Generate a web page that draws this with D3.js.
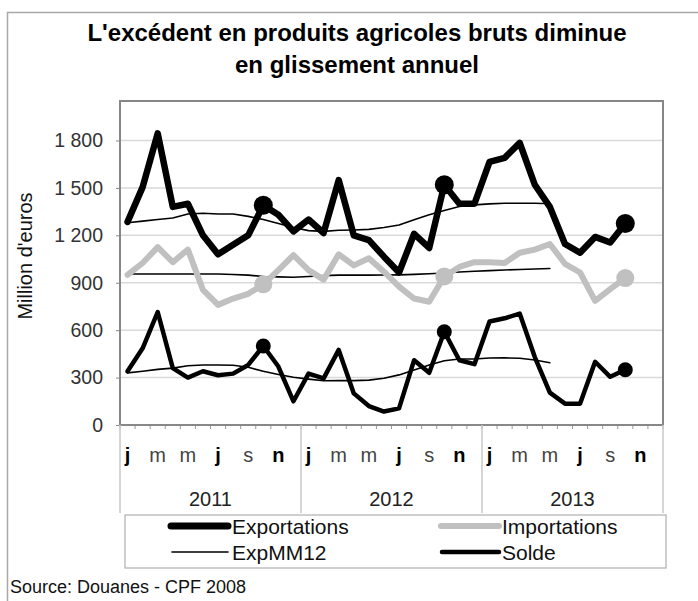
<!doctype html>
<html>
<head>
<meta charset="utf-8">
<script src="https://d3js.org/d3.v7.min.js"></script>
<style>
  body { margin: 0; background: #fff; }
  text { font-family: "Liberation Sans", Arial, sans-serif; }
</style>
</head>
<body>
<script>
  // valeurs mensuelles, janvier 2011 -> octobre 2013 (millions d'euros)
  var annees = ["2011", "2012", "2013"];
  var lettresMois = ["j", "f", "m", "a", "m", "j", "j", "a", "s", "o", "n", "d"];
  var yTicks = [0, 300, 600, 900, 1200, 1500, 1800];

  var exportations = [1285, 1505, 1845, 1380, 1400, 1200, 1080, 1140, 1200, 1390, 1330, 1225,
                      1300, 1215, 1550, 1200, 1170, 1065, 965, 1210, 1120, 1520, 1400, 1400,
                      1665, 1690, 1785, 1520, 1380, 1145, 1090, 1190, 1155, 1275];
  var importations = [950, 1025, 1125, 1030, 1110, 855, 760, 800, 830, 890, 980, 1075,
                      980, 920, 1080, 1010, 1055, 970, 875, 800, 780, 940, 1000, 1030,
                      1030, 1025, 1090, 1110, 1145, 1020, 965, 785, 860, 930];
  var solde = [340, 485, 715, 360, 300, 340, 315, 325, 380, 500, 370, 150,
               325, 295, 475, 200, 120, 85, 105, 410, 330, 590, 410, 385,
               655, 675, 705, 430, 205, 135, 135, 400, 305, 350];
  // moyennes mobiles sur 12 mois (s'arretent en mai 2013)
  var expMM12 = [1280, 1290, 1300, 1310, 1335, 1340, 1335, 1335, 1320, 1300, 1275, 1250,
                 1230, 1225, 1232, 1234, 1238, 1250, 1265, 1298, 1330, 1357, 1382, 1393,
                 1399, 1403, 1403, 1403, 1400];
  var impMM12 = [955, 955, 955, 955, 955, 955, 955, 952, 948, 940, 937, 935,
                 940, 945, 948, 948, 948, 949, 950, 953, 957, 962, 968, 973,
                 977, 981, 984, 987, 990];
  var soldeMM12 = [330, 340, 352, 360, 375, 380, 380, 378, 365, 340, 320, 302,
                   290, 280, 282, 281, 284, 296, 317, 348, 380, 407, 418, 418,
                   424, 425, 422, 411, 394];

  var width = 698, height = 601;
  var plot = {left: 120, right: 663, top: 101, bottom: 425};

  var mois = d3.range(36);

  var x = d3.scaleBand()
            .domain(mois)
            .range([plot.left, plot.right]);
  var y = d3.scaleLinear()
            .domain([0, 2050])
            .range([plot.bottom, plot.top]);

  var fr = d3.formatLocale({decimal: ",", thousands: " ", grouping: [3], currency: ["", " €"]});
  var fmt = fr.format(",d");

  var svg = d3.select("body").append("svg")
              .attr("width", width)
              .attr("height", height);

  // cadre exterieur
  svg.append("rect")
     .attr("x", 7.5).attr("y", 12.5)
     .attr("width", 720).attr("height", 620)
     .attr("fill", "none").attr("stroke", "#a8a8a8").attr("stroke-width", 1.5);

  // titre
  var titre = svg.append("text")
     .attr("text-anchor", "middle")
     .attr("font-weight", "bold")
     .attr("font-size", 24)
     .attr("fill", "#000");
  titre.append("tspan").attr("x", 357).attr("y", 41).text("L'excédent en produits agricoles bruts diminue");
  titre.append("tspan").attr("x", 357).attr("y", 73).text("en glissement annuel");

  // grille
  svg.append("g")
     .selectAll("line")
     .data(yTicks.filter(function(d){ return d > 0; }))
     .enter().append("line")
     .attr("x1", plot.left).attr("x2", plot.right)
     .attr("y1", function(d){ return y(d); })
     .attr("y2", function(d){ return y(d); })
     .attr("stroke", "#d9d9d9").attr("stroke-width", 1.5);

  // axe vertical
  var axeY = svg.append("g")
     .attr("transform", "translate(" + plot.left + ",0)")
     .call(d3.axisLeft(y).tickValues(yTicks).tickFormat(fmt).tickSize(4).tickPadding(13));
  axeY.select(".domain").remove();
  axeY.selectAll(".tick line").attr("stroke", "#888");
  axeY.selectAll("text")
      .attr("font-size", 19.5)
      .attr("fill", "#333")
      .style("font-family", "'Liberation Sans', Arial, sans-serif");

  svg.append("text")
     .attr("transform", "translate(32,256) rotate(-90)")
     .attr("text-anchor", "middle")
     .attr("font-size", 20)
     .attr("fill", "#111")
     .text("Million d'euros");

  // cadre de la zone de tracé
  svg.append("path")
     .attr("d", "M" + plot.left + "," + plot.bottom + "V" + plot.top + "H" + plot.right + "V" + plot.bottom)
     .attr("fill", "none").attr("stroke", "#868686").attr("stroke-width", 2);

  // axe horizontal : petites graduations par mois
  svg.append("g")
     .selectAll("line")
     .data(d3.range(37))
     .enter().append("line")
     .attr("x1", function(d){ return plot.left + d * x.step(); })
     .attr("x2", function(d){ return plot.left + d * x.step(); })
     .attr("y1", plot.bottom).attr("y2", plot.bottom + 4)
     .attr("stroke", "#999").attr("stroke-width", 1);

  svg.append("line")
     .attr("x1", plot.left).attr("x2", plot.right)
     .attr("y1", plot.bottom).attr("y2", plot.bottom)
     .attr("stroke", "#888").attr("stroke-width", 2);

  // separateurs d'annees
  svg.append("g")
     .selectAll("line")
     .data(d3.range(4))
     .enter().append("line")
     .attr("x1", function(d){ return plot.left + d * 12 * x.step(); })
     .attr("x2", function(d){ return plot.left + d * 12 * x.step(); })
     .attr("y1", plot.bottom).attr("y2", 513)
     .attr("stroke", "#c8c8c8").attr("stroke-width", 1.5);

  // lettres des mois (un mois sur deux)
  svg.append("g")
     .selectAll("text")
     .data(mois.filter(function(d){ return d % 2 === 0; }))
     .enter().append("text")
     .attr("x", function(d){ return x(d) + x.bandwidth() / 2; })
     .attr("y", 462)
     .attr("text-anchor", "middle")
     .attr("font-size", 20)
     .attr("font-weight", function(d){
        var l = lettresMois[d % 12];
        return (l === "j" || l === "n") ? "bold" : "normal";
     })
     .attr("fill", function(d){
        var l = lettresMois[d % 12];
        return (l === "j" || l === "n") ? "#000" : "#444";
     })
     .text(function(d){ return lettresMois[d % 12]; });

  svg.append("g")
     .selectAll("text")
     .data(annees)
     .enter().append("text")
     .attr("x", function(d, i){ return plot.left + (i * 12 + 6) * x.step(); })
     .attr("y", 506)
     .attr("text-anchor", "middle")
     .attr("font-size", 20)
     .attr("fill", "#222")
     .text(function(d){ return d; });

  // series
  var ligne = d3.line()
                .x(function(d, i){ return x(i) + x.bandwidth() / 2; })
                .y(function(d){ return y(d); });

  var series = [
    {nom: "ImpMM12", data: impMM12, couleur: "#000", epaisseur: 1.6},
    {nom: "SoldeMM12", data: soldeMM12, couleur: "#000", epaisseur: 1.6},
    {nom: "Importations", data: importations, couleur: "#c0c0c0", epaisseur: 6, rayon: 9},
    {nom: "Solde", data: solde, couleur: "#000", epaisseur: 4.5, rayon: 7.5},
    {nom: "ExpMM12", data: expMM12, couleur: "#000", epaisseur: 1.6},
    {nom: "Exportations", data: exportations, couleur: "#000", epaisseur: 6.5, rayon: 9.5}
  ];

  series.forEach(function(s){
    svg.append("path")
       .datum(s.data)
       .attr("d", ligne)
       .attr("fill", "none")
       .attr("stroke", s.couleur)
       .attr("stroke-width", s.epaisseur)
       .attr("stroke-linejoin", "round")
       .attr("stroke-linecap", "round");

    if (s.rayon) {
      // marqueurs sur le mois d'octobre
      svg.append("g")
         .selectAll("circle")
         .data(s.data.map(function(v, i){ return {v: v, i: i}; })
                     .filter(function(d){ return d.i % 12 === 9; }))
         .enter().append("circle")
         .attr("cx", function(d){ return x(d.i) + x.bandwidth() / 2; })
         .attr("cy", function(d){ return y(d.v); })
         .attr("r", s.rayon)
         .attr("fill", s.couleur);
    }
  });

  // legende
  var legende = svg.append("g");
  legende.append("rect")
         .attr("x", 125).attr("y", 515)
         .attr("width", 541).attr("height", 53)
         .attr("fill", "#fff").attr("stroke", "#b0b0b0").attr("stroke-width", 1.2);

  var entrees = [
    {nom: "Exportations", couleur: "#000", epaisseur: 7, x: 171, y: 526},
    {nom: "Importations", couleur: "#c0c0c0", epaisseur: 6, x: 441, y: 526},
    {nom: "ExpMM12", couleur: "#000", epaisseur: 1.6, x: 172, y: 552},
    {nom: "Solde", couleur: "#000", epaisseur: 4.5, x: 442, y: 552}
  ];

  var e = legende.selectAll("g.entree")
                 .data(entrees)
                 .enter().append("g").attr("class", "entree");
  e.append("line")
   .attr("x1", function(d){ return d.x; })
   .attr("x2", function(d){ return d.x < 300 ? 228 : 499; })
   .attr("y1", function(d){ return d.y; })
   .attr("y2", function(d){ return d.y; })
   .attr("stroke", function(d){ return d.couleur; })
   .attr("stroke-width", function(d){ return d.epaisseur; })
   .attr("stroke-linecap", "round");
  e.append("text")
   .attr("x", function(d){ return d.x < 300 ? 232 : 502; })
   .attr("y", function(d){ return d.y + 8; })
   .attr("font-size", 21)
   .attr("fill", "#111")
   .text(function(d){ return d.nom; });

  svg.append("text")
     .attr("x", 10).attr("y", 593)
     .attr("font-size", 18)
     .attr("fill", "#111")
     .text("Source: Douanes - CPF 2008");
</script>
</body>
</html>
